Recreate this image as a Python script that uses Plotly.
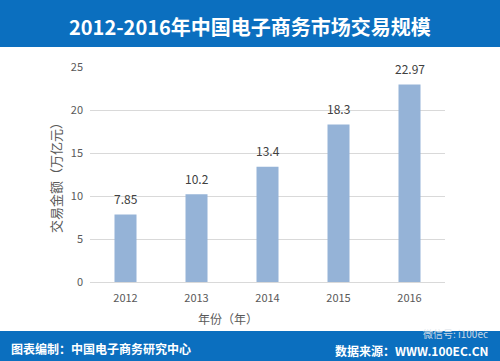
import plotly.graph_objects as go

years = ["2012", "2013", "2014", "2015", "2016"]
values = [7.85, 10.2, 13.4, 18.3, 22.97]
labels = ["7.85", "10.2", "13.4", "18.3", "22.97"]

W, H = 500, 361
L, R, T, B = 90, 55, 67, 79
PW, PH = W - L - R, H - T - B

def px(x):
    return (x - L) / PW

def py(y):
    return (H - B - y) / PH

font = "Noto Sans CJK SC, Microsoft YaHei, sans-serif"
band = "#0b6fbf"

fig = go.Figure(go.Bar(
    x=years, y=values,
    marker=dict(color="#95b3d7", line=dict(width=0)),
    width=0.31,
))

annots = [
    dict(x=i, y=v, text=t, xref="x", yref="y", showarrow=False, yshift=16,
         xanchor="center", yanchor="middle",
         font=dict(size=12, color="#404040", family=font))
    for i, (v, t) in enumerate(zip(values, labels))
]

fig.update_layout(
    width=W, height=H, autosize=False,
    margin=dict(l=L, r=R, t=T, b=B, pad=0),
    paper_bgcolor="white", plot_bgcolor="white",
    font=dict(family=font, color="#595959", size=11),
    showlegend=False,
    xaxis=dict(type="category", range=[-0.5, len(years) - 0.5], showgrid=False, showline=False, ticks="",
               tickfont=dict(size=11, color="#595959"), ticklabelstandoff=8),
    yaxis=dict(range=[0, 25], dtick=5, showgrid=True, gridcolor="#d9d9d9",
               zeroline=True, zerolinecolor="#d9d9d9", zerolinewidth=1,
               tickfont=dict(size=11, color="#595959"), ticklabelstandoff=6,
               title=dict(text="交易金额（万亿元）", font=dict(size=13, color="#595959"), standoff=6)),
    shapes=[
        dict(type="rect", xref="paper", yref="paper", x0=px(0), x1=px(W), y0=py(47), y1=py(0),
             fillcolor=band, line=dict(width=0), layer="below"),
        dict(type="rect", xref="paper", yref="paper", x0=px(0), x1=px(W), y0=py(H), y1=py(331),
             fillcolor=band, line=dict(width=0), layer="below"),
    ],
    annotations=annots + [
        dict(text="年份（年）", xref="paper", yref="paper",
             x=px(228), y=py(318), xanchor="center", yanchor="middle", showarrow=False,
             font=dict(size=12, color="#595959", family=font)),
        dict(text="<b>2012-2016年中国电子商务市场交易规模</b>", xref="paper", yref="paper",
             x=px(250), y=py(26), xanchor="center", yanchor="middle", showarrow=False,
             font=dict(size=20, color="white", family=font)),
        dict(text="<b>图表编制：中国电子商务研究中心</b>", xref="paper", yref="paper",
             x=px(9), y=py(348), xanchor="left", yanchor="middle", showarrow=False,
             font=dict(size=12, color="white", family=font)),
        dict(text="<b>数据来源：WWW.100EC.CN</b>", xref="paper", yref="paper",
             x=px(491), y=py(350), xanchor="right", yanchor="middle", showarrow=False,
             font=dict(size=12, color="white", family=font)),
        dict(text="微信号: i100ec", xref="paper", yref="paper",
             x=px(490), y=py(333), xanchor="right", yanchor="middle", showarrow=False,
             font=dict(size=10, color="rgba(225,230,235,0.9)", family=font)),
    ],
)

fig.write_html("out.html", config={"displayModeBar": False},
               post_script="document.body.style.margin='0';document.body.style.overflow='hidden';")
